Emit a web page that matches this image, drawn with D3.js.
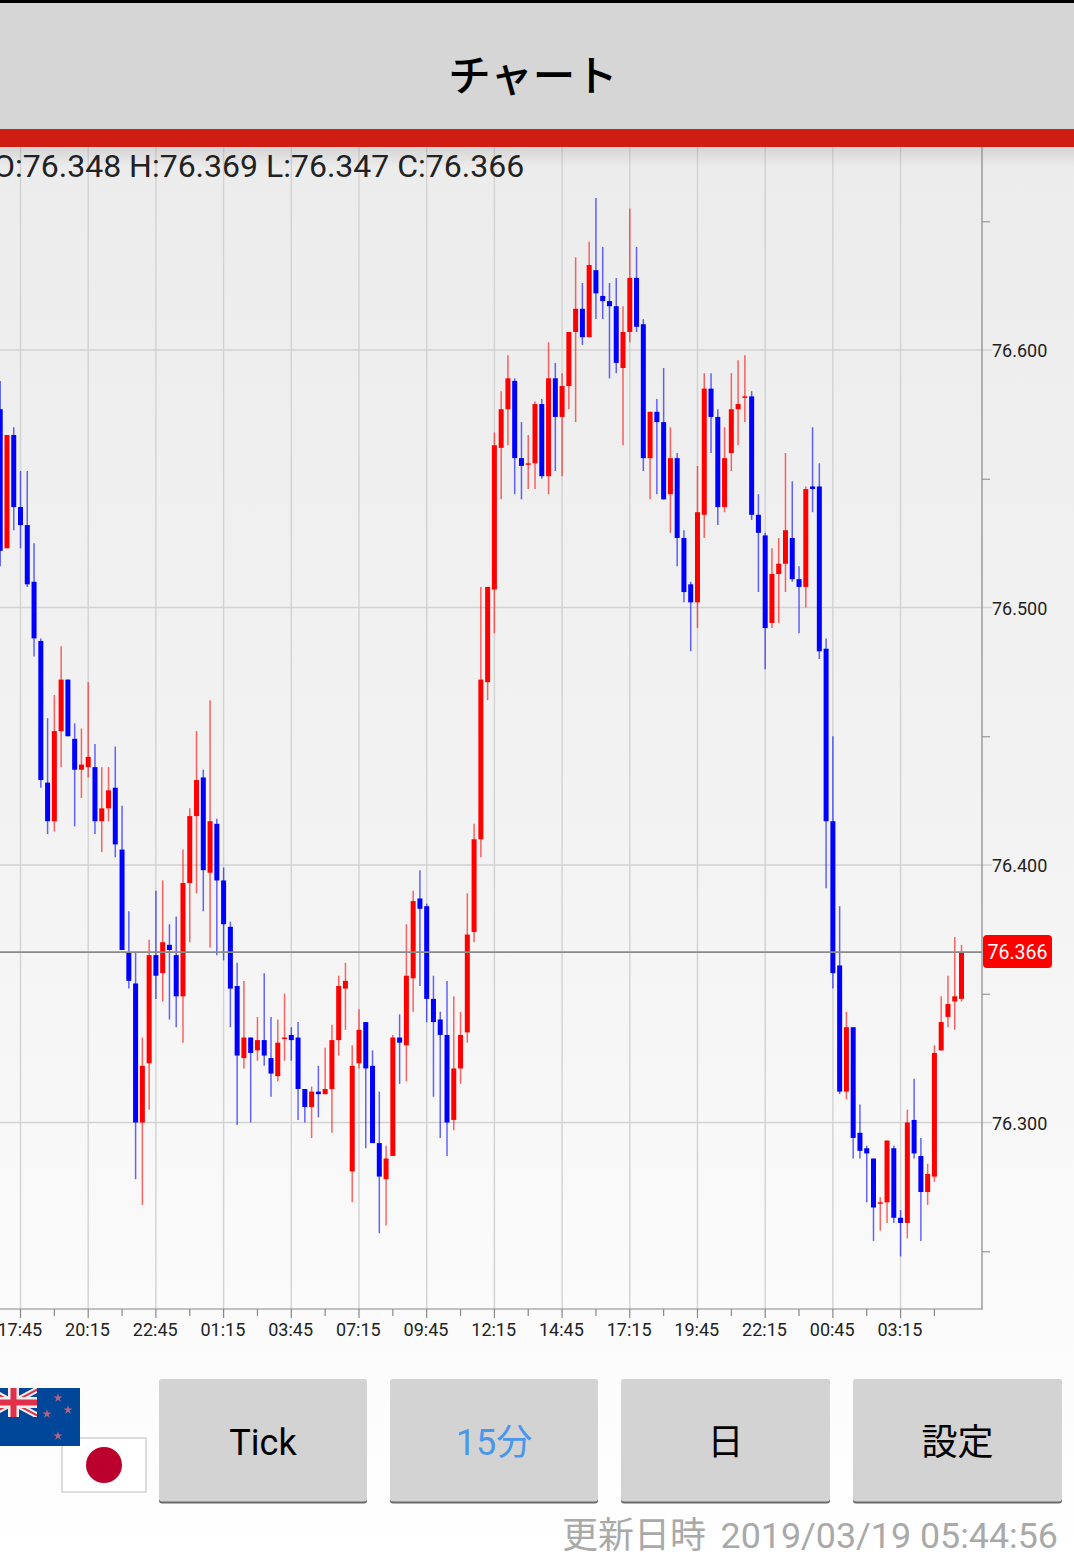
<!DOCTYPE html>
<html><head><meta charset="utf-8">
<script src="https://cdn.jsdelivr.net/npm/d3@7/dist/d3.min.js"></script>
<style>html,body{margin:0;padding:0;background:#fff;overflow:hidden}svg{display:block}</style>
</head><body><svg id="c" width="1074" height="1559"></svg>
<script>
const opens=[76.577,76.523,76.567,76.539,76.532,76.510,76.487,76.432,76.417,76.452,
76.472,76.449,76.437,76.438,76.438,76.417,76.422,76.430,76.406,76.366,
76.354,76.300,76.323,76.365,76.358,76.369,76.365,76.349,76.393,76.419,
76.434,76.397,76.416,76.394,76.376,76.353,76.325,76.333,76.328,76.332,
76.325,76.318,76.333,76.334,76.333,76.313,76.306,76.312,76.311,76.313,
76.332,76.352,76.281,76.323,76.339,76.322,76.292,76.278,76.287,76.333,
76.330,76.356,76.387,76.384,76.348,76.340,76.334,76.301,76.321,76.335,
76.374,76.410,76.471,76.507,76.562,76.577,76.588,76.558,76.556,76.556,
76.579,76.551,76.589,76.574,76.586,76.607,76.616,76.605,76.631,76.621,
76.619,76.617,76.593,76.607,76.628,76.610,76.558,76.576,76.572,76.544,
76.558,76.527,76.509,76.502,76.536,76.585,76.574,76.539,76.560,76.577,
76.582,76.582,76.536,76.528,76.494,76.513,76.517,76.527,76.511,76.508,
76.547,76.547,76.484,76.417,76.361,76.312,76.337,76.296,76.290,76.286,
76.269,76.269,76.290,76.263,76.261,76.301,76.287,76.273,76.279,76.328,
76.341,76.347,76.348];
const highs=[76.588,76.567,76.570,76.553,76.553,76.525,76.488,76.457,76.466,76.485,
76.472,76.455,76.453,76.471,76.447,76.438,76.438,76.446,76.423,76.382,
76.366,76.333,76.371,76.390,76.394,76.377,76.380,76.406,76.422,76.452,
76.437,76.464,76.418,76.399,76.378,76.362,76.355,76.333,76.341,76.358,
76.341,76.340,76.350,76.337,76.339,76.313,76.314,76.322,76.329,76.338,
76.357,76.362,76.330,76.344,76.339,76.328,76.312,76.291,76.334,76.342,
76.377,76.390,76.398,76.385,76.357,76.343,76.355,76.349,76.343,76.389,
76.416,76.508,76.508,76.568,76.584,76.598,76.589,76.572,76.567,76.580,
76.581,76.603,76.595,76.591,76.607,76.636,76.626,76.642,76.659,76.640,
76.626,76.628,76.617,76.655,76.640,76.612,76.576,76.581,76.593,76.570,
76.560,76.530,76.510,76.555,76.591,76.591,76.577,76.570,76.591,76.596,
76.598,76.584,76.544,76.529,76.523,76.527,76.560,76.549,76.516,76.547,
76.570,76.556,76.488,76.450,76.384,76.343,76.337,76.307,76.291,76.286,
76.271,76.293,76.291,76.266,76.305,76.317,76.294,76.284,76.330,76.349,
76.357,76.372,76.369];
const lows=[76.516,76.523,76.530,76.523,76.508,76.481,76.430,76.412,76.413,76.438,
76.450,76.415,76.426,76.434,76.412,76.405,76.417,76.403,76.367,76.352,
76.278,76.268,76.305,76.348,76.347,76.340,76.337,76.331,76.370,76.389,
76.382,76.368,76.365,76.363,76.337,76.299,76.321,76.300,76.324,76.322,
76.310,76.316,76.324,76.324,76.301,76.300,76.294,76.302,76.311,76.296,
76.326,76.336,76.269,76.321,76.290,76.292,76.257,76.260,76.287,76.315,
76.316,76.343,76.353,76.339,76.310,76.294,76.287,76.297,76.315,76.331,
76.370,76.403,76.464,76.490,76.542,76.563,76.544,76.542,76.546,76.546,
76.550,76.544,76.553,76.551,76.577,76.572,76.602,76.605,76.612,76.612,
76.589,76.591,76.563,76.603,76.607,76.553,76.542,76.544,76.542,76.529,
76.516,76.502,76.483,76.492,76.527,76.560,76.532,76.537,76.553,76.563,
76.572,76.534,76.506,76.476,76.492,76.494,76.506,76.510,76.490,76.500,
76.537,76.480,76.391,76.352,76.311,76.309,76.286,76.286,76.269,76.254,
76.258,76.261,76.261,76.248,76.255,76.286,76.254,76.268,76.277,76.328,
76.337,76.336,76.347];
const closes=[76.522,76.567,76.539,76.532,76.509,76.488,76.433,76.417,76.452,76.472,
76.450,76.437,76.439,76.442,76.417,76.422,76.429,76.408,76.367,76.355,
76.300,76.322,76.365,76.357,76.370,76.367,76.349,76.393,76.419,76.433,
76.398,76.417,76.394,76.377,76.352,76.326,76.333,76.327,76.332,76.326,
76.319,76.331,76.333,76.332,76.313,76.306,76.312,76.311,76.313,76.332,
76.353,76.355,76.322,76.336,76.321,76.292,76.279,76.286,76.333,76.331,
76.357,76.386,76.383,76.348,76.339,76.334,76.300,76.321,76.334,76.373,
76.410,76.472,76.508,76.563,76.577,76.589,76.558,76.555,76.556,76.579,
76.551,76.589,76.574,76.586,76.607,76.616,76.605,76.633,76.622,76.619,
76.617,76.595,76.607,76.628,76.609,76.558,76.576,76.572,76.542,76.558,
76.527,76.506,76.502,76.537,76.585,76.574,76.539,76.558,76.577,76.579,
76.582,76.536,76.529,76.492,76.513,76.517,76.530,76.511,76.508,76.546,
76.546,76.483,76.417,76.358,76.312,76.337,76.294,76.289,76.288,76.267,
76.269,76.293,76.263,76.261,76.300,76.288,76.273,76.280,76.327,76.339,
76.346,76.349,76.366];
const timeLabels=["17:45","20:15","22:45","01:15","03:45","07:15","09:45","12:15","14:45","17:15","19:45","22:15","00:45","03:15"];
const majorTickIndex=[3,13,23,33,43,53,63,73,83,93,103,113,123,133];
const minorTickIndex=[8,18,28,38,48,58,68,78,88,98,108,118,128,138];
const priceTicks=[76.6,76.5,76.4,76.3];
const minorPriceTicks=[76.65,76.55,76.45,76.35,76.25];
const currentPrice=76.366;
const ohlcText="O:76.348 H:76.369 L:76.347 C:76.366";
const buttons=[{t:"Tick",x0:159,x1:367,c:"#000"},{t:"15分",x0:390,x1:598,c:"#4a97ea"},{t:"日",x0:621,x1:830,c:"#000"},{t:"設定",x0:853,x1:1062,c:"#000"}];

const F="Roboto,'Noto Sans CJK JP',sans-serif";
const svg=d3.select("#c");
const defs=svg.append("defs");
const g1=defs.append("linearGradient").attr("id","bg").attr("x1",0).attr("x2",0).attr("y1",0).attr("y2",1);
g1.append("stop").attr("offset",0).attr("stop-color","#ececec");
g1.append("stop").attr("offset",0.5).attr("stop-color","#f3f3f3");
g1.append("stop").attr("offset",1).attr("stop-color","#ffffff");
const g2=defs.append("linearGradient").attr("id","sh").attr("x1",0).attr("x2",0).attr("y1",0).attr("y2",1);
g2.append("stop").attr("offset",0).attr("stop-color","#000").attr("stop-opacity",0.1);
g2.append("stop").attr("offset",1).attr("stop-color","#000").attr("stop-opacity",0);
defs.append("clipPath").attr("id","plot").append("rect").attr("x",0).attr("y",147).attr("width",982).attr("height",1162);
defs.append("clipPath").attr("id","canton").append("rect").attr("x",0).attr("y",1388).attr("width",37).attr("height",29);

svg.append("rect").attr("x",0).attr("y",147).attr("width",1074).attr("height",1412).attr("fill","url(#bg)");

const x=d3.scaleLinear().domain([0,142]).range([0.2,961.5]);
const y=d3.scaleLinear().domain([76.3,76.6]).range([1122.5,350]);

// grid
const grid=svg.append("g");
grid.selectAll("line.v").data(majorTickIndex).join("line").attr("class","v")
 .attr("x1",d=>x(d)).attr("x2",d=>x(d)).attr("y1",147).attr("y2",1309)
 .attr("stroke","#d2d2d2").attr("stroke-width",1.4);
grid.selectAll("line.h").data(priceTicks).join("line").attr("class","h")
 .attr("x1",0).attr("x2",992).attr("y1",d=>y(d)).attr("y2",d=>y(d))
 .attr("stroke","#d2d2d2").attr("stroke-width",1.4);

// header
svg.append("rect").attr("x",0).attr("y",147).attr("width",1074).attr("height",20).attr("fill","url(#sh)");
svg.append("rect").attr("x",0).attr("y",0).attr("width",1074).attr("height",3).attr("fill","#000");
svg.append("rect").attr("x",0).attr("y",3).attr("width",1074).attr("height",126).attr("fill","#d6d6d6");
svg.append("rect").attr("x",0).attr("y",129).attr("width",1074).attr("height",18).attr("fill","#ce1e14");
svg.append("text").attr("x",533).attr("y",91).attr("text-anchor","middle").attr("font-family","'Noto Sans CJK JP',sans-serif").attr("font-size",42.5).attr("font-weight",500).attr("fill","#000").text("チャート");

// axes
const xAxis=d3.axisBottom(x).tickValues(majorTickIndex).tickSize(9).tickPadding(5).tickFormat((d,i)=>timeLabels[i]);
const gx=svg.append("g").attr("transform","translate(-0.5,1309)").call(xAxis);
gx.select(".domain").remove();
gx.selectAll(".tick line").attr("stroke","#888").attr("stroke-width",1.2);
gx.selectAll("text").attr("font-family",F).attr("font-size",18).attr("fill","#222").attr("dx",-0.7);
const xMinor=d3.axisBottom(x).tickValues(minorTickIndex).tickSize(7).tickFormat("");
const gxm=svg.append("g").attr("transform","translate(-0.5,1309)").call(xMinor);
gxm.select(".domain").remove();
gxm.selectAll(".tick line").attr("stroke","#888").attr("stroke-width",1.2);

const yAxis=d3.axisRight(y).tickValues(priceTicks).tickSize(0).tickPadding(10).tickFormat(d3.format(".3f"));
const gy=svg.append("g").attr("transform","translate(982,1)").call(yAxis);
gy.select(".domain").remove();
gy.selectAll("text").attr("font-family",F).attr("font-size",18).attr("fill","#222");
const yMinor=d3.axisRight(y).tickValues(minorPriceTicks).tickSize(8).tickFormat("");
const gym=svg.append("g").attr("transform","translate(982,0)").call(yMinor);
gym.select(".domain").remove();
gym.selectAll(".tick line").attr("stroke","#999").attr("stroke-width",1.2);

svg.append("line").attr("x1",0).attr("x2",982.5).attr("y1",1309).attr("y2",1309).attr("stroke","#888").attr("stroke-width",1.2);
svg.append("line").attr("x1",982).attr("x2",982).attr("y1",147).attr("y2",1309.5).attr("stroke","#888").attr("stroke-width",1.2);

// candles
const plot=svg.append("g").attr("clip-path","url(#plot)");
const data=opens.map((o,i)=>({i,o,h:highs[i],l:lows[i],c:closes[i]}));
const col=d=>d.c>=d.o?"#ff0000":"#0000ff";
plot.selectAll("line.wick").data(data).join("line").attr("class","wick")
 .attr("x1",d=>x(d.i)).attr("x2",d=>x(d.i)).attr("y1",d=>y(d.h)).attr("y2",d=>y(d.l))
 .attr("stroke",col).attr("stroke-opacity",0.6).attr("stroke-width",1.5);
plot.selectAll("rect.body").data(data).join("rect").attr("class","body")
 .attr("x",d=>x(d.i)-2.5).attr("width",5)
 .attr("y",d=>y(Math.max(d.o,d.c)))
 .attr("height",d=>Math.max(1.5,Math.abs(y(d.o)-y(d.c))))
 .attr("fill",col);

// current price
svg.append("line").attr("x1",0).attr("x2",982).attr("y1",y(currentPrice)-0.5).attr("y2",y(currentPrice)-0.5).attr("stroke","#8a8a8a").attr("stroke-width",1.8);
svg.append("rect").attr("x",983).attr("y",y(currentPrice)-17.5).attr("width",69).attr("height",33).attr("rx",4).attr("fill","#ff0000");
svg.append("text").attr("x",1017.5).attr("y",y(currentPrice)+6.2).attr("text-anchor","middle").attr("font-family",F).attr("font-size",19.5).attr("fill","#fff").text(currentPrice.toFixed(3));

// OHLC
svg.append("text").attr("x",-7).attr("y",177).attr("font-family",F).attr("font-size",32).attr("fill","#222").text(ohlcText);

// flags
const jp=svg.append("g");
jp.append("rect").attr("x",62).attr("y",1438).attr("width",84).attr("height",54).attr("fill","#fff").attr("stroke","#ddd").attr("stroke-width",2);
jp.append("circle").attr("cx",104).attr("cy",1465).attr("r",18).attr("fill","#bc002d");
const nz=svg.append("g");
nz.append("rect").attr("x",0).attr("y",1388).attr("width",80).attr("height",58).attr("fill","#00479a");
const uj=nz.append("g").attr("clip-path","url(#canton)");
uj.append("line").attr("x1",-14).attr("y1",1388).attr("x2",40).attr("y2",1417).attr("stroke","#eee").attr("stroke-width",6);
uj.append("line").attr("x1",40).attr("y1",1388).attr("x2",-14).attr("y2",1417).attr("stroke","#eee").attr("stroke-width",6);
uj.append("line").attr("x1",-14).attr("y1",1388).attr("x2",40).attr("y2",1417).attr("stroke","#d8304a").attr("stroke-width",2);
uj.append("line").attr("x1",40).attr("y1",1388).attr("x2",-14).attr("y2",1417).attr("stroke","#d8304a").attr("stroke-width",2);
uj.append("rect").attr("x",8).attr("y",1388).attr("width",11).attr("height",29).attr("fill","#eee");
uj.append("rect").attr("x",0).attr("y",1397).attr("width",37).attr("height",11).attr("fill","#eee");
uj.append("rect").attr("x",10.5).attr("y",1388).attr("width",6).attr("height",29).attr("fill","#e0304a");
uj.append("rect").attr("x",0).attr("y",1399.5).attr("width",37).attr("height",6).attr("fill","#e0304a");
[[58,1398],[68,1410],[47,1414],[58,1436]].forEach(p=>{
 nz.append("path").attr("transform",`translate(${p[0]},${p[1]})`).attr("d",d3.symbol(d3.symbolStar,26)()).attr("fill","#b8607f");
});

// buttons
const b=svg.append("g").selectAll("g").data(buttons).join("g");
b.append("rect").attr("x",d=>d.x0).attr("y",1381).attr("width",d=>d.x1-d.x0).attr("height",122.5).attr("rx",3).attr("fill","#6a6a6a");
b.append("rect").attr("x",d=>d.x0).attr("y",1379).attr("width",d=>d.x1-d.x0).attr("height",122.5).attr("rx",3).attr("fill","#d3d3d3");
b.append("text").attr("x",d=>(d.x0+d.x1)/2).attr("y",1455).attr("text-anchor","middle").attr("font-family",F).attr("font-size",36).attr("fill",d=>d.c).text(d=>d.t);

// footer
svg.append("text").attr("x",562).attr("y",1548).attr("font-family",F).attr("font-size",36).attr("fill","#a9a9a9").text("更新日時");
svg.append("text").attr("x",1058).attr("y",1548).attr("text-anchor","end").attr("font-family",F).attr("font-size",35.8).attr("fill","#a9a9a9").text("2019/03/19 05:44:56");
</script></body></html>
